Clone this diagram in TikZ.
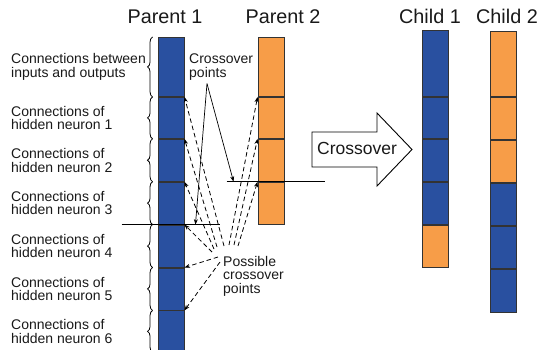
\documentclass[tikz,border=0pt]{standalone}
\usepackage{fontspec}
\setmainfont{Liberation Sans}
\usetikzlibrary{positioning,arrows.meta,decorations.pathreplacing}
\definecolor{genblue}{RGB}{41,80,160}
\definecolor{genorange}{RGB}{247,157,72}

\begin{document}
\begin{tikzpicture}[x=1pt,y=-1pt,
  seg/.style={draw=black!80, line width=0.9pt, minimum width=26pt, inner sep=0pt},
  brc/.style={decorate, decoration={brace, amplitude=5pt}, line width=0.8pt},
  lbl/.style={align=left, inner sep=0pt, text=black!90, font=\fontsize{14}{13.5}\selectfont},
  ttl/.style={inner sep=0pt, text=black!90, font=\fontsize{19.8}{19.8}\selectfont},
  cut/.style={line width=0.8pt},
  pointer/.style={line width=0.7pt, -{Stealth[length=5.5pt,width=4pt]}},
  dpointer/.style={pointer, line width=0.8pt, dash pattern=on 4.5pt off 3pt}]
  \useasboundingbox (0,0) rectangle (539,349);

  % titles
  \node[ttl, anchor=base] (tp1) at (165,23) {Parent 1};
  \node[ttl, anchor=base] (tp2) at (283,23) {Parent 2};
  \node[ttl, anchor=base] (tc1) at (430,23) {Child 1};
  \node[ttl, anchor=base] (tc2) at (507,23) {Child 2};

  % parent 1
  \node[seg, fill=genblue, minimum height=59pt, anchor=north] (p1a) at (171,37) {};
  \node[seg, fill=genblue, minimum height=41pt, below=0pt of p1a] (p1b) {};
  \node[seg, fill=genblue, minimum height=42pt, below=0pt of p1b] (p1c) {};
  \node[seg, fill=genblue, minimum height=42pt, below=0pt of p1c] (p1d) {};
  \node[seg, fill=genblue, minimum height=42pt, below=0pt of p1d] (p1e) {};
  \node[seg, fill=genblue, minimum height=42pt, below=0pt of p1e] (p1f) {};
  \node[seg, fill=genblue, minimum height=41pt, below=0pt of p1f] (p1g) {};

  % parent 2
  \node[seg, fill=genorange, minimum height=59pt, anchor=north] (p2a) at (271,37) {};
  \node[seg, fill=genorange, minimum height=41pt, below=0pt of p2a] (p2b) {};
  \node[seg, fill=genorange, minimum height=42pt, below=0pt of p2b] (p2c) {};
  \node[seg, fill=genorange, minimum height=42pt, below=0pt of p2c] (p2d) {};

  % child 1
  \node[seg, fill=genblue, minimum height=66pt, anchor=north] (c1a) at (435.5,30) {};
  \node[seg, fill=genblue, minimum height=41pt, below=0pt of c1a] (c1b) {};
  \node[seg, fill=genblue, minimum height=42pt, below=0pt of c1b] (c1c) {};
  \node[seg, fill=genblue, minimum height=42pt, below=0pt of c1c] (c1d) {};
  \node[seg, fill=genorange, minimum height=42pt, below=0pt of c1d] (c1e) {};

  % child 2
  \node[seg, fill=genorange, minimum height=65pt, anchor=north] (c2a) at (503.5,31) {};
  \node[seg, fill=genorange, minimum height=42pt, below=0pt of c2a] (c2b) {};
  \node[seg, fill=genorange, minimum height=42pt, below=0pt of c2b] (c2c) {};
  \node[seg, fill=genblue, minimum height=42pt, below=0pt of c2c] (c2d) {};
  \node[seg, fill=genblue, minimum height=42pt, below=0pt of c2d] (c2e) {};
  \node[seg, fill=genblue, minimum height=43pt, below=0pt of c2e] (c2f) {};

  % braces and their labels
  \foreach \s in {a,b,c,d,e,f,g}
    \draw[brc] ([xshift=-5pt]p1\s.south west) -- ([xshift=-5pt]p1\s.north west);
  \coordinate (lx) at (11,0);
  \node[lbl, anchor=west] (l1) at (p1a.west -| lx) {Connections between\\inputs and outputs};
  \node[lbl, anchor=west] (l2) at (p1b.west -| lx) {Connections of\\hidden neuron 1};
  \node[lbl, anchor=west] (l3) at (p1c.west -| lx) {Connections of\\hidden neuron 2};
  \node[lbl, anchor=west] (l4) at (p1d.west -| lx) {Connections of\\hidden neuron 3};
  \node[lbl, anchor=west] (l5) at (p1e.west -| lx) {Connections of\\hidden neuron 4};
  \node[lbl, anchor=west] (l6) at (p1f.west -| lx) {Connections of\\hidden neuron 5};
  \node[lbl, anchor=west] (l7) at (p1g.west -| lx) {Connections of\\hidden neuron 6};

  % crossover arrow
  \draw[line width=0.9pt] (312,132) -- (377,132) -- (377,113) -- (412,149.5) -- (377,186) -- (377,167) -- (312,167) -- cycle;
  \node[inner sep=0pt, text=black!90, font=\fontsize{17.5}{17.5}\selectfont] (xo) at (357,148) {Crossover};

  % cut lines
  \draw[cut] ([xshift=-36pt]p1e.north west) -- ([xshift=36pt]p1e.north east);
  \draw[cut] ([xshift=-31pt]p2d.north west) -- ([xshift=41pt]p2d.north east);

  % crossover points
  \node[lbl, anchor=north west] (cop) at (189,54) {Crossover\\points};
  \draw[pointer] ([shift={(18,3)}]cop.south west) -- ([xshift=11pt]p1e.north east);
  \draw[pointer] ([shift={(18,3)}]cop.south west) -- ([xshift=-24pt]p2d.north west);

  % possible crossover points
  \node[lbl, anchor=north west] (pcp) at (223,256) {Possible\\crossover\\points};
  \draw[dpointer] ([shift={(1,-10)}]pcp.north west) -- (p1b.north east);
  \draw[dpointer] ([shift={(-6,-9)}]pcp.north west) -- (p1c.north east);
  \draw[dpointer] ([shift={(-9,-7)}]pcp.north west) -- (p1d.north east);
  \draw[dpointer] ([shift={(-11,-4)}]pcp.north west) -- (p1e.north east);
  \draw[dpointer] ([shift={(-5,1)}]pcp.north west) -- (p1f.north east);
  \draw[dpointer] ([shift={(-3,6)}]pcp.north west) -- (p1g.north east);
  \draw[dpointer] ([shift={(6,-11)}]pcp.north west) -- (p2b.north west);
  \draw[dpointer] ([shift={(11,-11)}]pcp.north west) -- (p2c.north west);
  \draw[dpointer] ([shift={(15,-10)}]pcp.north west) -- (p2d.north west);
\end{tikzpicture}
\end{document}
